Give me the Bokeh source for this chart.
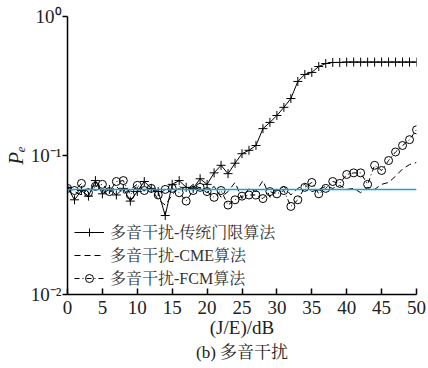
from bokeh.plotting import figure
from bokeh.models import FixedTicker, CustomJSTickFormatter, Legend, LegendItem, Span
from bokeh.embed import file_html
from bokeh.resources import INLINE

jamming_db = list(range(0, 51))

traditional = [0.059, 0.048, 0.056, 0.051, 0.066, 0.053, 0.057, 0.052, 0.058, 0.047,
               0.055, 0.065, 0.058, 0.055, 0.037, 0.062, 0.066, 0.059, 0.058, 0.068,
               0.062, 0.075, 0.085, 0.074, 0.088, 0.103, 0.109, 0.118, 0.156, 0.173,
               0.194, 0.222, 0.257, 0.341, 0.383, 0.396, 0.437, 0.459, 0.467, 0.467,
               0.47, 0.47, 0.47, 0.47, 0.47, 0.47, 0.47, 0.47, 0.47, 0.47, 0.47]

cme = [0.060, 0.055, 0.052, 0.058, 0.061, 0.056, 0.054, 0.060, 0.053, 0.057,
       0.062, 0.055, 0.058, 0.048, 0.044, 0.052, 0.060, 0.056, 0.062, 0.058,
       0.054, 0.060, 0.050, 0.055, 0.064, 0.049, 0.058, 0.055, 0.066, 0.050,
       0.056, 0.060, 0.052, 0.058, 0.062, 0.055, 0.057, 0.060, 0.058, 0.061,
       0.057, 0.058, 0.054, 0.059, 0.057, 0.062, 0.064, 0.071, 0.080, 0.086, 0.089]

fcm = [0.058, 0.056, 0.063, 0.054, 0.060, 0.062, 0.055, 0.065, 0.066, 0.052,
       0.061, 0.056, 0.058, 0.052, 0.057, 0.058, 0.054, 0.047, 0.056, 0.059,
       0.055, 0.050, 0.056, 0.044, 0.048, 0.051, 0.052, 0.052, 0.049, 0.055,
       0.053, 0.056, 0.043, 0.048, 0.059, 0.064, 0.053, 0.058, 0.065, 0.063,
       0.073, 0.075, 0.075, 0.062, 0.085, 0.078, 0.092, 0.106, 0.118, 0.130, 0.153]

reference_level = 0.057

x_ticks = [0, 5, 10, 15, 20, 25, 30, 35, 40, 45, 50]
y_ticks = [0.01, 0.1, 1.0]

series_labels = ["多音干扰-传统门限算法", "多音干扰-CME算法", "多音干扰-FCM算法"]

SERIF = "'Liberation Serif', 'Noto Serif CJK SC', 'Noto Sans CJK SC'"

p = figure(width=428, height=368, output_backend="svg", toolbar_location=None,
           y_axis_type="log", x_range=(0, 50), y_range=(0.01, 1.0),
           min_border_left=66, min_border_right=12, min_border_top=16, min_border_bottom=74,
           title="(b) 多音干扰", title_location="below")

p.outline_line_color = None
p.grid.visible = False
p.background_fill_color = "white"
p.border_fill_color = "white"

p.title.align = "center"
p.title.text_font = SERIF
p.title.text_font_size = "17px"
p.title.text_font_style = "normal"
p.title.text_color = "#222222"
p.title.standoff = 0

# axes
p.xaxis.ticker = FixedTicker(ticks=x_ticks)
p.yaxis.ticker = FixedTicker(ticks=y_ticks)
p.yaxis.formatter = CustomJSTickFormatter(code="""
const e = Math.round(Math.log10(tick));
const sup = {'0':'\u2070','1':'\u00b9','2':'\u00b2','-':'\u207b'};
return '10' + String(e).split('').map(c => sup[c]).join('');
""")
for ax in (p.xaxis[0], p.yaxis[0]):
    ax.axis_line_color = "black"
    ax.axis_line_width = 1.5
    ax.major_tick_line_color = "black"
    ax.major_tick_line_width = 1.5
    ax.minor_tick_line_color = None
    ax.major_label_text_font = SERIF
    ax.major_label_text_font_size = "19px"
    ax.major_label_text_color = "#222222"
    ax.axis_label_text_font = SERIF
    ax.axis_label_text_color = "#222222"

p.xaxis.major_tick_in = 6
p.xaxis.major_tick_out = 0
p.yaxis.major_tick_in = 0
p.yaxis.major_tick_out = 5
p.xaxis.major_label_standoff = 6
p.yaxis.major_label_standoff = 1

p.xaxis.axis_label = "(J/E)/dB"
p.xaxis.axis_label_text_font_size = "19px"
p.xaxis.axis_label_text_font_style = "normal"
p.xaxis.axis_label_standoff = 0

p.yaxis.axis_label = "P\u2091"
p.yaxis.axis_label_text_font_size = "21px"
p.yaxis.axis_label_text_font_style = "italic"
p.yaxis.axis_label_standoff = 0

# reference level
p.add_layout(Span(location=reference_level, dimension="width",
                  line_color="#1f9fd8", line_width=1.5))

r1l = p.line(jamming_db, traditional, line_color="black", line_width=1)
r1m = p.scatter(jamming_db, traditional, marker="cross", size=9,
                line_color="black", line_width=1)

r2l = p.line(jamming_db, cme, line_color="black", line_width=1, line_dash="6 4")

r3l = p.line(jamming_db, fcm, line_color="black", line_width=1, line_dash="5 3 1 3")
r3m = p.scatter(jamming_db, fcm, marker="circle", size=8, fill_color=None,
                line_color="black", line_width=1)

legend = Legend(items=[
    LegendItem(label=series_labels[0], renderers=[r1l, r1m]),
    LegendItem(label=series_labels[1], renderers=[r2l]),
    LegendItem(label=series_labels[2], renderers=[r3l, r3m]),
], location=(7, 5))
legend.background_fill_alpha = 0
legend.border_line_color = None
legend.label_text_font = SERIF
legend.label_text_font_size = "16px"
legend.label_text_color = "#333333"
legend.glyph_width = 30
legend.glyph_height = 20
legend.label_height = 20
legend.spacing = 0
legend.label_standoff = 6
legend.padding = 4
p.add_layout(legend)

open("out.html", "w").write(file_html(p, INLINE))
